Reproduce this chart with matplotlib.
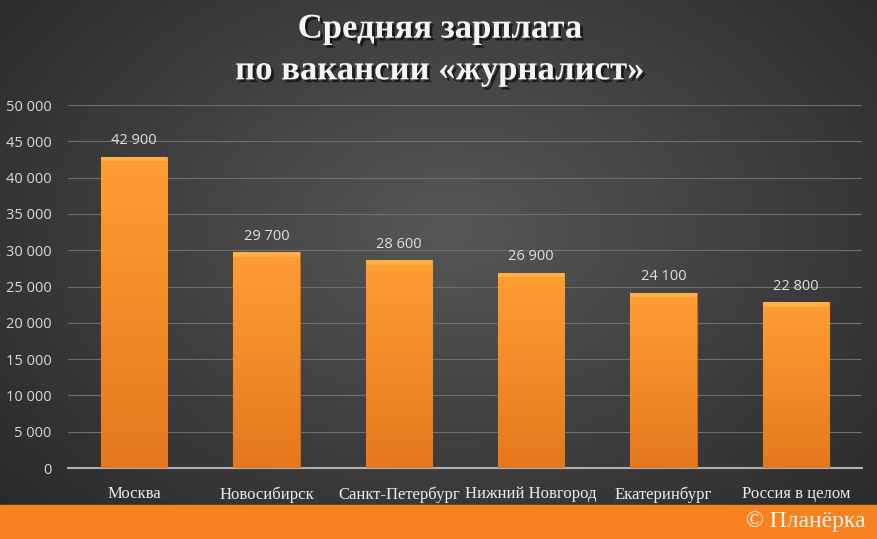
import numpy as np
import matplotlib.pyplot as plt
import matplotlib.patheffects as pe

cities = ["Москва", "Новосибирск", "Санкт-Петербург", "Нижний Новгород",
          "Екатеринбург", "Россия в целом"]
salaries = [42900, 29700, 28600, 26900, 24100, 22800]
yticks = list(range(0, 50001, 5000))
title = "Средняя зарплата\nпо вакансии «журналист»"


def fmt(v):
    return f"{v:,}".replace(",", " ")


fig = plt.figure(figsize=(8.78, 5.39), dpi=100)

# radial dark background
bg = fig.add_axes([0, 0, 1, 1])
yy, xx = np.mgrid[0:539, 0:878]
r = np.sqrt(((xx - 450) / 600.0) ** 2 + ((yy - 230) / 420.0) ** 2)
shade = np.clip(0.34 - 0.18 * r, 0.16, 0.34)
bg.imshow(np.dstack([shade, shade, shade]), extent=[0, 878, 539, 0], aspect="auto")
# orange band at bottom
bg.add_patch(plt.Rectangle((0, 505), 878, 34, color="#f7821f"))
bg.set_xlim(0, 878)
bg.set_ylim(539, 0)
bg.axis("off")

bg.text(866, 522, "© Планёрка", ha="right", va="center", color="#fbf3ea",
        fontsize=17, family="Liberation Serif")

bg.text(440, 50, title, ha="center", va="center", color="#f4f4f4",
        fontsize=25, fontweight="bold", family="Liberation Serif",
        linespacing=1.35,
        path_effects=[pe.withSimplePatchShadow(offset=(2, -2), shadow_rgbFace="black", alpha=0.6)])

ax = fig.add_axes([68 / 878, 71 / 539, 794 / 878, 363 / 539])
ax.patch.set_alpha(0)
x = np.arange(len(cities))
bars = ax.bar(x, salaries, width=0.5, color="#f5962a", edgecolor="#c96a10", linewidth=0.8, zorder=3)

# vertical gradient inside each bar
grad = np.linspace(0, 1, 256).reshape(-1, 1)
top = np.array([1.0, 0.62, 0.20])
bot = np.array([0.90, 0.47, 0.12])
img = top * (1 - grad[..., None]) + bot * grad[..., None]
img = np.repeat(img, 2, axis=1)
for b, v in zip(bars, salaries):
    x0 = b.get_x()
    im = ax.imshow(img, extent=[x0, x0 + b.get_width(), 0, v], aspect="auto", zorder=3.5)
    im.set_clip_path(b)
    # bevel at top
    ax.add_patch(plt.Rectangle((x0, v - 600), b.get_width(), 600, color="#ffb54d",
                               alpha=0.8, zorder=4, linewidth=0))
    ax.text(b.get_x() + b.get_width() / 2, v + 1200, fmt(v), ha="center", va="bottom",
            color="#e0e0e0", fontsize=10.5, family="Open Sans")

ax.set_xlim(-0.5, len(cities) - 0.5)
ax.set_ylim(0, 50000)
ax.set_yticks(yticks)
ax.set_yticklabels([fmt(v) for v in yticks], color="#d9d9d9", fontsize=10.5, family="Open Sans")
ax.set_xticks(x)
ax.set_xticklabels(cities, color="#ececec", fontsize=12, family="Liberation Serif")
ax.tick_params(axis="y", length=0, pad=12)
ax.tick_params(axis="x", length=0, pad=13)
ax.grid(axis="y", color="#6e6e6e", linewidth=0.8, zorder=0)
for s in ["top", "right", "left"]:
    ax.spines[s].set_visible(False)
ax.spines["bottom"].set_color("#b0b0b0")
ax.spines["bottom"].set_linewidth(1.5)

fig.savefig("out.png", dpi=100)
